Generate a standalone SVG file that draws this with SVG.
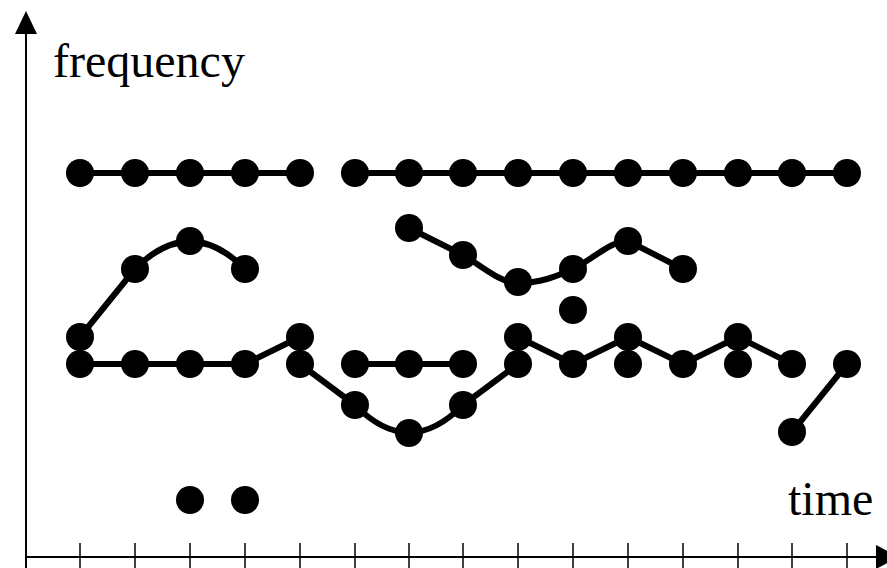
<svg xmlns="http://www.w3.org/2000/svg" width="887" height="568" viewBox="0 0 887 568">
<style>
.ax{stroke:#000;stroke-width:2;fill:none}
.tk{stroke:#000;stroke-width:1.5}
.ln{stroke:#000;stroke-width:6;fill:none;stroke-linejoin:round}
.d{fill:#000}
.t{font-family:"Liberation Serif","Times New Roman",serif;font-size:48px;fill:#000}
</style>
<defs><circle id="dot" r="14" class="d"/></defs>
<rect width="887" height="568" fill="#fff"/>
<g id="axes">
<line class="ax" x1="26" y1="568" x2="26" y2="30"/>
<polygon points="26,11 15,34 37,34" fill="#000"/>
<line class="ax" x1="26" y1="557" x2="880" y2="557"/>
<polygon points="899,557 876,545 876,569" fill="#000"/>
<g class="tk">
<line x1="80" y1="543" x2="80" y2="570"/><line x1="135" y1="543" x2="135" y2="570"/><line x1="190" y1="543" x2="190" y2="570"/><line x1="245" y1="543" x2="245" y2="570"/><line x1="300" y1="543" x2="300" y2="570"/><line x1="355" y1="543" x2="355" y2="570"/><line x1="409" y1="543" x2="409" y2="570"/><line x1="463" y1="543" x2="463" y2="570"/><line x1="518" y1="543" x2="518" y2="570"/><line x1="573" y1="543" x2="573" y2="570"/><line x1="628" y1="543" x2="628" y2="570"/><line x1="683" y1="543" x2="683" y2="570"/><line x1="738" y1="543" x2="738" y2="570"/><line x1="792" y1="543" x2="792" y2="570"/><line x1="847" y1="543" x2="847" y2="570"/>
</g>
<text class="t" x="53" y="77">frequency</text>
<text class="t" x="788" y="515">time</text>
</g>
<g id="connectors">
<path class="ln" d="M80,173 L300,173"/>
<path class="ln" d="M355,173 L847,173"/>
<path class="ln" d="M80,337 L135,269 Q190,214 245,269"/>
<path class="ln" d="M80,364 L245,364 L300,337"/>
<path class="ln" d="M300,364 L355,405 Q409,460 463,405 L518,364"/>
<path class="ln" d="M355,364 L463,364"/>
<path class="ln" d="M518,337 L573,364 L628,337 L683,364 L738,337 L792,364"/>
<path class="ln" d="M409,228 L463,255 C482,266 500,283 518,283 C540,283 555,277 573,269 C595,258 610,241 628,241 L683,269"/>
<path class="ln" d="M792,432 L847,364"/>
</g>
<g id="nodes">
<g id="row-top">
<use href="#dot" x="80" y="173"/><use href="#dot" x="135" y="173"/><use href="#dot" x="190" y="173"/><use href="#dot" x="245" y="173"/><use href="#dot" x="300" y="173"/><use href="#dot" x="355" y="173"/><use href="#dot" x="409" y="173"/><use href="#dot" x="463" y="173"/><use href="#dot" x="518" y="173"/><use href="#dot" x="573" y="173"/><use href="#dot" x="628" y="173"/><use href="#dot" x="683" y="173"/><use href="#dot" x="738" y="173"/><use href="#dot" x="792" y="173"/><use href="#dot" x="847" y="173"/>
</g>
<g id="track-arc">
<use href="#dot" x="80" y="337"/><use href="#dot" x="135" y="269"/><use href="#dot" x="190" y="241"/><use href="#dot" x="245" y="269"/>
</g>
<g id="track-low">
<use href="#dot" x="80" y="364"/><use href="#dot" x="135" y="364"/><use href="#dot" x="190" y="364"/><use href="#dot" x="245" y="364"/><use href="#dot" x="300" y="337"/>
</g>
<g id="track-valley">
<use href="#dot" x="300" y="364"/><use href="#dot" x="355" y="405"/><use href="#dot" x="409" y="433"/><use href="#dot" x="463" y="405"/><use href="#dot" x="518" y="364"/>
</g>
<g id="track-mid">
<use href="#dot" x="355" y="364"/><use href="#dot" x="409" y="364"/><use href="#dot" x="463" y="364"/>
</g>
<g id="track-zigzag">
<use href="#dot" x="518" y="337"/><use href="#dot" x="573" y="364"/><use href="#dot" x="628" y="337"/><use href="#dot" x="683" y="364"/><use href="#dot" x="738" y="337"/><use href="#dot" x="792" y="364"/>
<use href="#dot" x="628" y="364"/><use href="#dot" x="738" y="364"/>
</g>
<g id="track-wave">
<use href="#dot" x="409" y="228"/><use href="#dot" x="463" y="255"/><use href="#dot" x="518" y="282"/><use href="#dot" x="573" y="269"/><use href="#dot" x="628" y="241"/><use href="#dot" x="683" y="269"/>
</g>
<g id="isolated">
<use href="#dot" x="573" y="310"/><use href="#dot" x="190" y="500"/><use href="#dot" x="245" y="500"/>
</g>
<g id="track-end">
<use href="#dot" x="792" y="432"/><use href="#dot" x="847" y="364"/>
</g>
</g>
</svg>
